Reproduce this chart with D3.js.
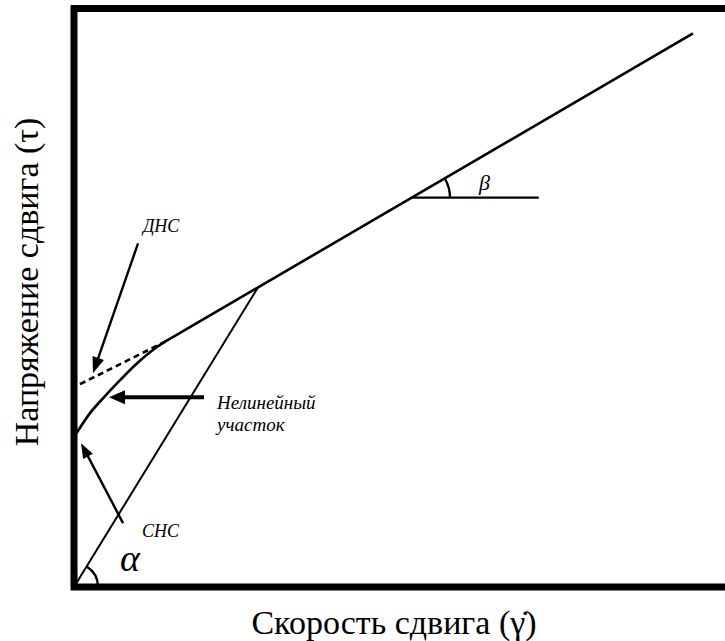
<!DOCTYPE html>
<html>
<head>
<meta charset="utf-8">
<script src="https://cdnjs.cloudflare.com/ajax/libs/d3/7.8.5/d3.min.js"></script>
<style>
  body { margin: 0; background: #fff; }
  svg text { font-family: "Liberation Serif", Times, "Times New Roman", "DejaVu Serif", serif; }
</style>
</head>
<body>
<div id="chart"></div>
<script>
// chart values (data units, both axes 0..100)
var curveX = [0, 2.46, 4.77, 7.08, 9.38, 11.69, 14.0, 15.0];   // nonlinear part
var curveY = [25.9, 30.05, 32.99, 35.75, 38.34, 40.59, 42.4, 43.06];
var lineEnd = [95.23, 95.68];      // straight branch end
var steepX = [0, 28.3];            // secant from origin (СНС)
var steepY = [0, 51.78];
var dnsX = [0.92, 14.0];           // dashed extrapolation (ДНС)
var dnsY = [35.06, 42.4];
var betaX = [52.0, 71.5];          // horizontal reference for beta
var betaY = [67.3, 67.3];

var arrowNames = ["ДНС", "Нелинейный", "СНС"];
var arrowFrom = [[9.85, 59.4], [20.0, 32.8], [7.54, 11.05]];
var arrowTo = [[2.92, 36.96], [5.38, 32.8], [1.08, 24.87]];

var xTitle = "Скорость сдвига (γ̇)";
var yTitle = "Напряжение сдвига (τ)";

var width = 725,
    height = 641;
var serif = "Liberation Serif, Times, Times New Roman, DejaVu Serif, serif";

var x = d3.scaleLinear().domain([0, 100]).range([74, 724]);
var y = d3.scaleLinear().domain([0, 100]).range([587, 8.5]);

var svg = d3.select("#chart")
  .append("svg")
  .attr("width", width)
  .attr("height", height);

var line = d3.line()
  .x(function(d) { return x(d[0]); })
  .y(function(d) { return y(d[1]); });

var curveLine = d3.line()
  .x(function(d) { return x(d[0]); })
  .y(function(d) { return y(d[1]); })
  .curve(d3.curveMonotoneX);

// main curve: nonlinear bit then straight line
svg.append("path")
  .attr("d", curveLine(curveX.map(function(v, i) { return [v, curveY[i]]; })) +
    "L" + x(lineEnd[0]) + "," + y(lineEnd[1]))
  .attr("fill", "none")
  .attr("stroke", "#000")
  .attr("stroke-width", 2.6);

// line from origin
svg.append("path")
  .attr("d", line(steepX.map(function(v, i) { return [v, steepY[i]]; })))
  .attr("fill", "none")
  .attr("stroke", "#000")
  .attr("stroke-width", 2);

// dashed extrapolation
svg.append("path")
  .attr("d", line(dnsX.map(function(v, i) { return [v, dnsY[i]]; })))
  .attr("fill", "none")
  .attr("stroke", "#000")
  .attr("stroke-width", 2.6)
  .attr("stroke-dasharray", "6,4");

// beta horizontal
svg.append("path")
  .attr("d", line(betaX.map(function(v, i) { return [v, betaY[i]]; })))
  .attr("fill", "none")
  .attr("stroke", "#000")
  .attr("stroke-width", 2.4);

// angle arcs
function angleArc(cx, cy, px, py, r) {
  var a = Math.atan2(py - cy, px - cx);
  return "M" + (cx + r) + "," + cy +
    "A" + r + "," + r + " 0 0 0 " + (cx + r * Math.cos(a)) + "," + (cy + r * Math.sin(a));
}
svg.append("path")
  .attr("d", angleArc(x(steepX[0]), y(steepY[0]), x(steepX[1]), y(steepY[1]), 24))
  .attr("fill", "none").attr("stroke", "#000").attr("stroke-width", 2.4);

svg.append("path")
  .attr("d", angleArc(x(betaX[0]), y(betaY[0]), x(lineEnd[0]), y(lineEnd[1]), 38))
  .attr("fill", "none").attr("stroke", "#000").attr("stroke-width", 2.4);

// arrows
var arrowW = [2.4, 4.2, 2.4],
    headL = [16, 16, 15],
    headW = [12, 14, 11];
arrowFrom.forEach(function(f, i) {
  var x0 = x(f[0]), y0 = y(f[1]),
      x1 = x(arrowTo[i][0]), y1 = y(arrowTo[i][1]);
  var len = Math.hypot(x1 - x0, y1 - y0),
      ux = (x1 - x0) / len, uy = (y1 - y0) / len;
  var bx = x1 - ux * headL[i], by = y1 - uy * headL[i];
  svg.append("line")
    .attr("x1", x0).attr("y1", y0)
    .attr("x2", bx + ux * 2).attr("y2", by + uy * 2)
    .attr("stroke", "#000")
    .attr("stroke-width", arrowW[i]);
  var hw = headW[i] / 2;
  svg.append("path")
    .attr("d", "M" + x1 + "," + y1 +
      "L" + (bx - uy * hw) + "," + (by + ux * hw) +
      "L" + (bx + uy * hw) + "," + (by - ux * hw) + "Z")
    .attr("fill", "#000");
});

// frame
svg.append("rect")
  .attr("x", x(0))
  .attr("y", y(100))
  .attr("width", x(101) - x(0))
  .attr("height", y(0) - y(100))
  .attr("fill", "none")
  .attr("stroke", "#000")
  .attr("stroke-width", 7);

// annotations
function label(px, py, size, italic) {
  return svg.append("text")
    .attr("x", px).attr("y", py)
    .attr("font-family", serif)
    .attr("font-size", size)
    .attr("font-style", italic ? "italic" : "normal");
}
label(x(10.6), y(61.3), 18, true).text(arrowNames[0]);

var nl = label(x(22.0), y(30.74), 19, true);
nl.append("tspan").text(arrowNames[1]);
nl.append("tspan").attr("x", x(22.0)).attr("dy", 22).text("участок");

label(x(10.46), y(8.64), 18, true).text(arrowNames[2]);
label(x(7.08), y(2.76), 38, true).text("α");
label(x(62.3), y(68.57), 22, true).text("β");

// axis titles
label(394, 634, 34, false)
  .attr("text-anchor", "middle")
  .text(xTitle);

label(0, 0, 34, false)
  .attr("transform", "translate(38,282) rotate(-90)")
  .attr("text-anchor", "middle")
  .text(yTitle);
</script>
</body>
</html>
